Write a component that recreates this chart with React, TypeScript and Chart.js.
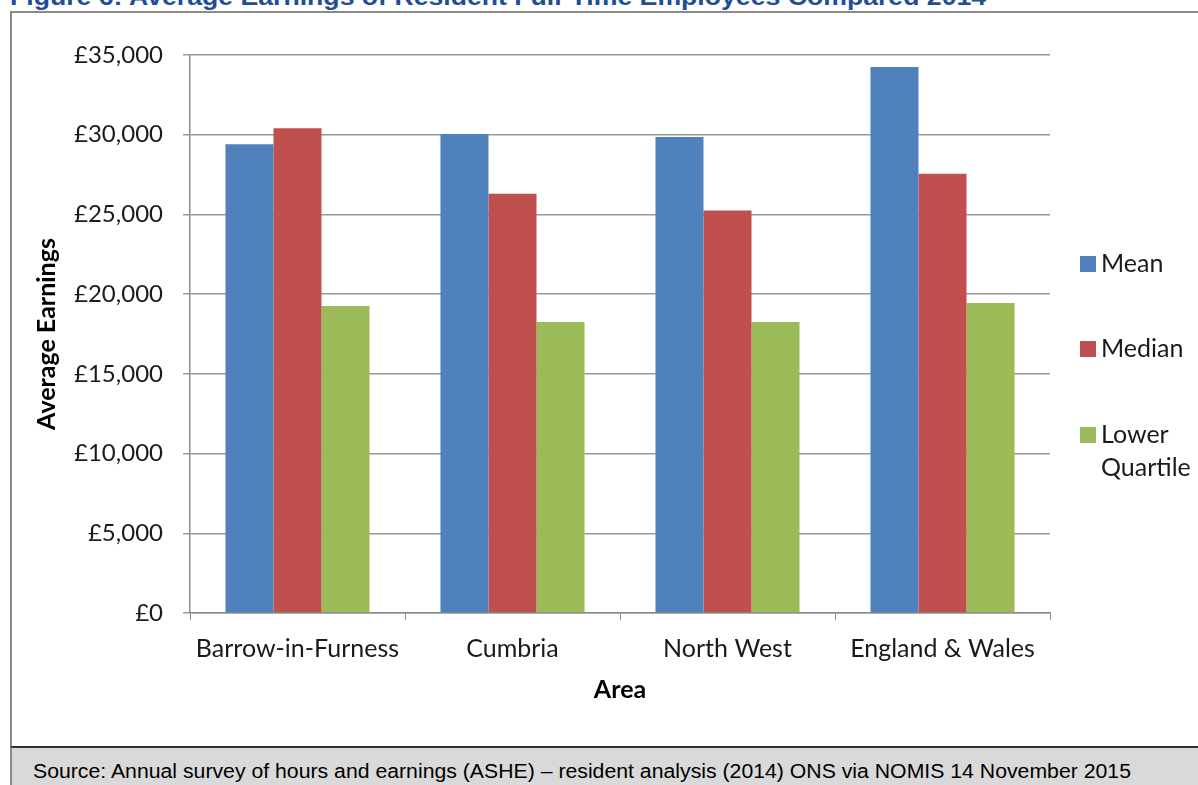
import React, { useEffect, useRef } from "react";
import { Chart, registerables } from "chart.js";

Chart.register(...registerables);

const categories = ["Barrow-in-Furness", "Cumbria", "North West", "England & Wales"];
const meanValues = [29400, 30050, 29850, 34250];
const medianValues = [30400, 26300, 25250, 27550];
const lowerQuartileValues = [19250, 18250, 18250, 19450];
const seriesNames = ["Mean", "Median", "Lower Quartile"];
const seriesColors = ["#4F81BD", "#C0504D", "#9BBB59"];

const FONT = "Lato, 'Open Sans', sans-serif";

const legendPlugin = {
  id: "sideLegend",
  afterDraw(chart: any) {
    const ctx = chart.ctx;
    const x0 = 1068;
    const centers = [251, 336, 422];
    const maxW = 97;
    ctx.save();
    ctx.font = `25px ${FONT}`;
    ctx.textBaseline = "middle";
    ctx.textAlign = "left";
    chart.data.datasets.forEach((ds: any, i: number) => {
      const cy = centers[i];
      ctx.fillStyle = ds.backgroundColor;
      ctx.fillRect(x0, cy - 8, 16, 16);
      ctx.fillStyle = "#1a1a1a";
      const words = String(ds.label).split(" ");
      const lines: string[] = [];
      let cur = "";
      words.forEach((w) => {
        const t = cur ? cur + " " + w : w;
        if (ctx.measureText(t).width > maxW && cur) {
          lines.push(cur);
          cur = w;
        } else cur = t;
      });
      if (cur) lines.push(cur);
      lines.forEach((ln, k) => ctx.fillText(ln, x0 + 21, cy + k * 33));
    });
    ctx.restore();
  },
};

function BarChart() {
  const ref = useRef<HTMLCanvasElement>(null);
  useEffect(() => {
    const chart = new Chart(ref.current!, {
      type: "bar",
      data: {
        labels: categories,
        datasets: [meanValues, medianValues, lowerQuartileValues].map((d, i) => ({
          label: seriesNames[i],
          data: d,
          backgroundColor: seriesColors[i],
          borderWidth: 0,
          barPercentage: 1,
          categoryPercentage: 0.67,
        })),
      },
      options: {
        animation: false,
        responsive: false,
        maintainAspectRatio: false,
        layout: { padding: { left: 0, top: 42, right: 148, bottom: 0 } },
        plugins: { legend: { display: false }, tooltip: { enabled: false }, title: { display: false } },
        scales: {
          x: {
            grid: { display: true, drawOnChartArea: false, color: "#8c8c8c", tickLength: 7, offset: true },
            border: { color: "#8c8c8c", width: 1.5 },
            ticks: { font: { family: FONT, size: 25 }, color: "#1a1a1a", padding: 14, maxRotation: 0 },
            title: {
              display: true,
              text: "Area",
              font: { family: FONT, size: 25, weight: "bold" },
              color: "#000",
              padding: { top: 0, bottom: 41 },
            },
            afterFit: (s: any) => {
              s.height = 133;
            },
          },
          y: {
            min: 0,
            max: 35000,
            ticks: {
              stepSize: 5000,
              font: { family: FONT, size: 24 },
              color: "#1a1a1a",
              padding: 20,
              callback: (v: any) => "£" + Number(v).toLocaleString("en-GB"),
            },
            grid: { color: "#9a9a9a", lineWidth: 1.5, tickLength: 7 },
            border: { color: "#8c8c8c", width: 1.5 },
            title: {
              display: true,
              text: "Average Earnings",
              font: { family: FONT, size: 25, weight: "bold" },
              color: "#000",
              padding: { top: 20, bottom: 0 },
            },
            afterFit: (s: any) => {
              s.width = 178;
            },
          },
        },
      },
      plugins: [legendPlugin],
    });
    return () => chart.destroy();
  }, []);
  return (
    <canvas
      ref={ref}
      width={1186}
      height={733}
      style={{ position: "absolute", left: 12, top: 13, width: 1186, height: 733 }}
    />
  );
}

export default function App() {
  return (
    <div style={{ position: "absolute", left: 0, top: 0, width: 1198, height: 785, overflow: "hidden", background: "#fff" }}>
      <div
        style={{
          position: "absolute",
          left: 10,
          top: -15,
          font: "bold 24px 'Liberation Sans', Arial, sans-serif",
          color: "#1f4e96",
          lineHeight: "24px",
          whiteSpace: "nowrap",
          transform: "scaleX(1.11)",
          transformOrigin: "left top",
        }}
      >
        Figure 6: Average Earnings of Resident Full-Time Employees Compared 2014
      </div>
      <div
        style={{
          position: "absolute",
          left: 10,
          top: 11,
          width: 1250,
          height: 740,
          borderLeft: "2px solid #8a8a8a",
          borderTop: "2px solid #8a8a8a",
          boxSizing: "border-box",
        }}
      />
      <BarChart />
      <div
        style={{
          position: "absolute",
          left: 10,
          top: 746,
          width: 1250,
          height: 50,
          background: "#d9d9d9",
          borderTop: "2px solid #333",
          borderLeft: "2px solid #8a8a8a",
          boxSizing: "border-box",
        }}
      >
        <div
          style={{
            position: "absolute",
            left: 21,
            top: 13,
            font: "20px 'Liberation Sans', Arial, sans-serif",
            color: "#000",
            lineHeight: "20px",
            whiteSpace: "nowrap",
            transform: "scaleX(1.062)",
            transformOrigin: "left top",
          }}
        >
          Source: Annual survey of hours and earnings (ASHE) – resident analysis (2014) ONS via NOMIS 14 November 2015
        </div>
      </div>
    </div>
  );
}
